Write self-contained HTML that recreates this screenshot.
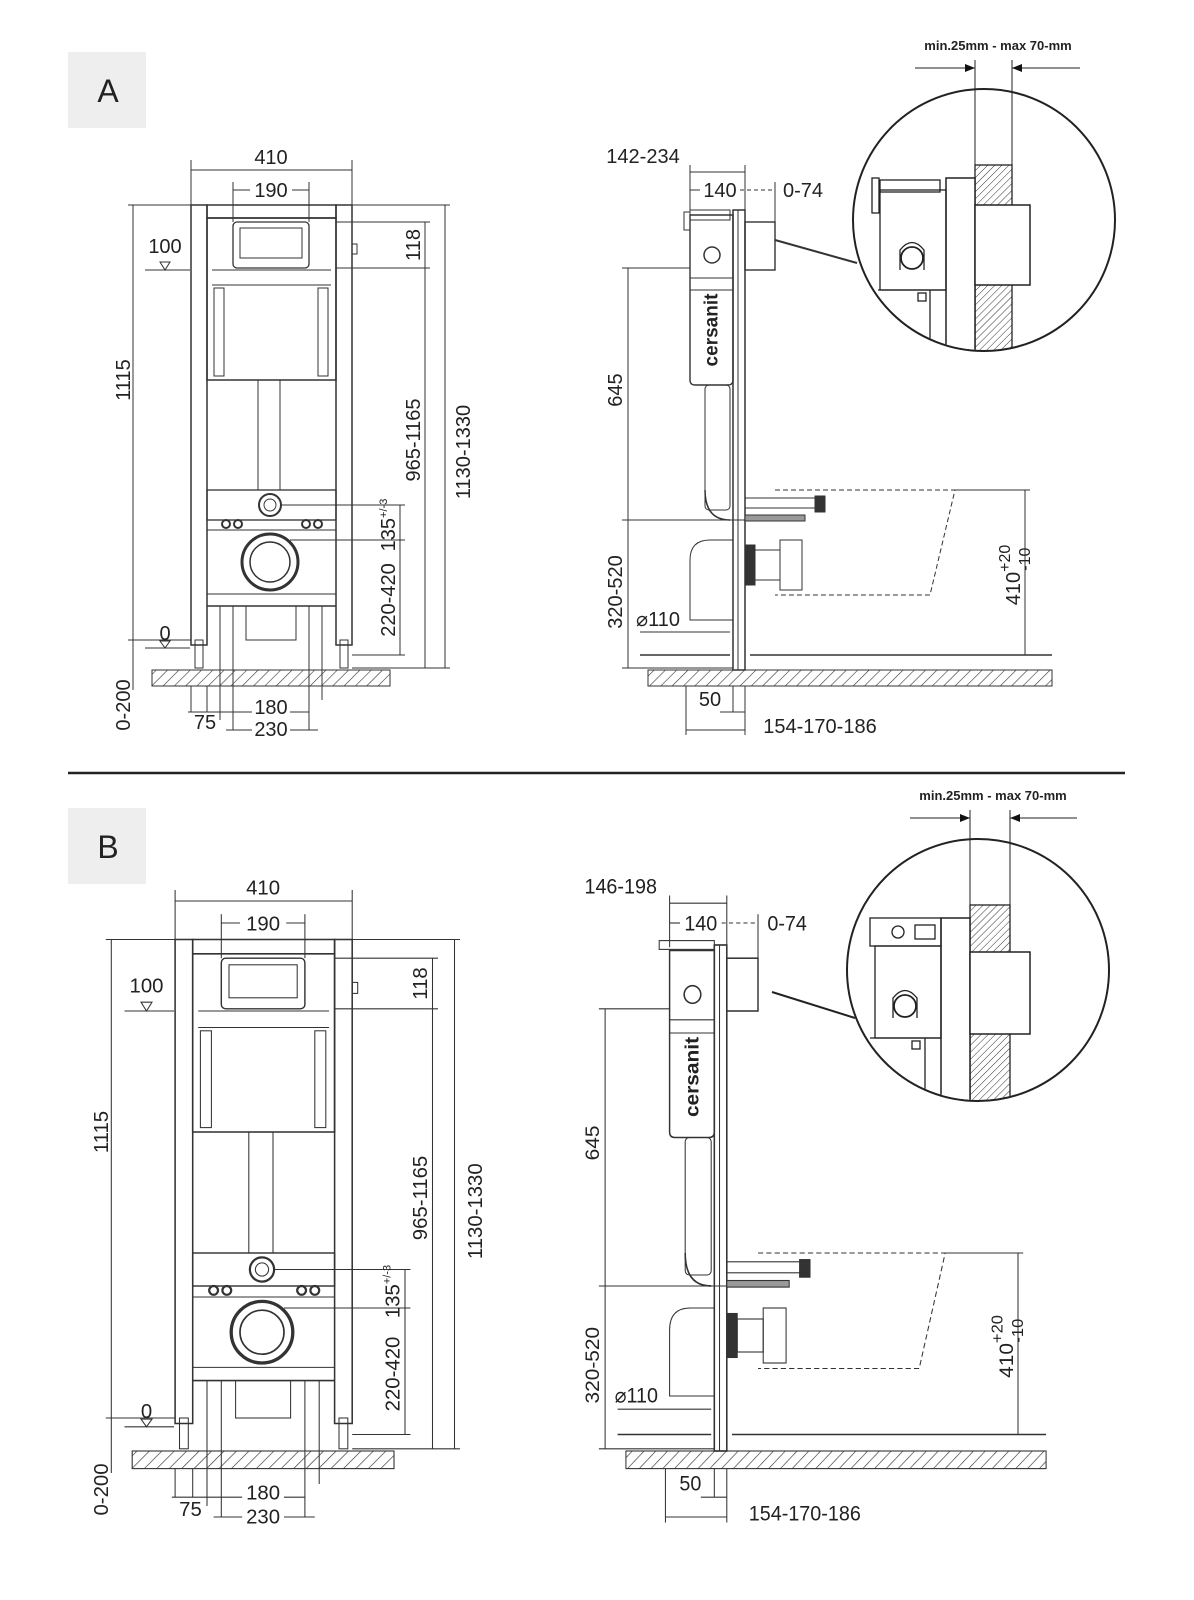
<!DOCTYPE html>
<html><head><meta charset="utf-8"><style>
html,body{margin:0;padding:0;background:#fff}
svg{display:block}
text{font-family:"Liberation Sans",sans-serif;fill:#222}
</style></head><body>
<svg width="1194" height="1600" viewBox="0 0 1194 1600" xmlns="http://www.w3.org/2000/svg">
<defs>
<pattern id="h" width="8" height="8" patternUnits="userSpaceOnUse" patternTransform="rotate(45)"><line x1="0" y1="0" x2="0" y2="8" stroke="#333" stroke-width="1.2"/></pattern>
<pattern id="h2" width="5" height="5" patternUnits="userSpaceOnUse" patternTransform="rotate(45)"><line x1="0" y1="0" x2="0" y2="5" stroke="#333" stroke-width="1"/></pattern>
<marker id="ar" markerWidth="10" markerHeight="8" refX="10" refY="4" orient="auto"><path d="M0,0L10,4L0,8z" fill="#111"/></marker>
</defs>

<line x1="68" y1="773" x2="1125" y2="773" stroke="#222" stroke-width="2.5"/>

<!-- ===== SECTION A ===== -->
<g id="A">
<rect x="68" y="52" width="78" height="76" fill="#eeeeee"/>
<text x="108" y="102" font-size="32" text-anchor="middle">A</text>

<g stroke="#333" fill="none" stroke-width="1">
<line x1="191" y1="170" x2="352" y2="170"/><line x1="191" y1="160" x2="191" y2="205"/><line x1="352" y1="160" x2="352" y2="205"/>
<line x1="233" y1="190" x2="250" y2="190"/><line x1="292" y1="190" x2="309" y2="190"/><line x1="233" y1="182" x2="233" y2="222"/><line x1="309" y1="182" x2="309" y2="222"/>
<line x1="133" y1="205" x2="133" y2="640"/><line x1="128" y1="205" x2="191" y2="205"/>
<line x1="133" y1="640" x2="133" y2="690"/><line x1="128" y1="640" x2="191" y2="640"/>
<line x1="145" y1="270" x2="190" y2="270"/><path d="M160,262L170,262L165,270z"/>
<line x1="145" y1="648" x2="190" y2="648"/><path d="M160,641L170,641L165,648z"/>
<rect x="191" y="205" width="16" height="440" stroke-width="1.5"/>
<rect x="336" y="205" width="16" height="440" stroke-width="1.5"/>
<rect x="195" y="640" width="8" height="28"/><rect x="340" y="640" width="8" height="28"/>
<rect x="207" y="205" width="129" height="13" stroke-width="1.5"/>
<rect x="207" y="218" width="129" height="162" stroke-width="1.5"/>
<rect x="233" y="222" width="76" height="46" rx="4" stroke-width="1.3"/>
<rect x="240" y="228" width="62" height="30"/>
<line x1="212" y1="270" x2="331" y2="270"/><line x1="212" y1="285" x2="331" y2="285"/>
<rect x="214" y="288" width="10" height="88"/><rect x="318" y="288" width="10" height="88"/>
<rect x="352" y="244" width="5" height="10"/>
<rect x="258" y="380" width="22" height="110"/>
<rect x="207" y="490" width="129" height="30" stroke-width="1.3"/>
<circle cx="270" cy="505" r="11" stroke-width="2"/><circle cx="270" cy="505" r="6"/>
<circle cx="226" cy="524" r="4" stroke-width="2"/><circle cx="238" cy="524" r="4" stroke-width="2"/>
<circle cx="306" cy="524" r="4" stroke-width="2"/><circle cx="318" cy="524" r="4" stroke-width="2"/>
<line x1="207" y1="530" x2="336" y2="530"/>
<circle cx="270" cy="562" r="28" stroke-width="3"/><circle cx="270" cy="562" r="20" stroke-width="1.5"/>
<line x1="207" y1="594" x2="336" y2="594"/><line x1="207" y1="606" x2="336" y2="606" stroke-width="1.5"/>
<rect x="246" y="606" width="50" height="34"/>
<line x1="220" y1="606" x2="220" y2="720"/><line x1="233" y1="606" x2="233" y2="730"/><line x1="309" y1="606" x2="309" y2="730"/><line x1="322" y1="606" x2="322" y2="700"/>
<line x1="336" y1="222" x2="430" y2="222"/><line x1="336" y1="268" x2="430" y2="268"/>
<line x1="425" y1="222" x2="425" y2="268"/><line x1="425" y1="268" x2="425" y2="668"/>
<line x1="352" y1="205" x2="450" y2="205"/><line x1="445" y1="205" x2="445" y2="668"/>
<line x1="280" y1="505" x2="405" y2="505"/><line x1="290" y1="540" x2="405" y2="540"/>
<line x1="400" y1="505" x2="400" y2="655"/><line x1="352" y1="655" x2="405" y2="655"/>
<line x1="352" y1="668" x2="450" y2="668"/>
<line x1="188" y1="712" x2="233" y2="712"/><line x1="233" y1="712" x2="252" y2="712"/><line x1="290" y1="712" x2="309" y2="712"/>
<line x1="226" y1="730" x2="252" y2="730"/><line x1="290" y1="730" x2="318" y2="730"/>
<line x1="191" y1="686" x2="191" y2="712"/><line x1="207" y1="686" x2="207" y2="712"/>
</g>
<rect x="152" y="670" width="238" height="16" fill="url(#h)" stroke="#333"/>
<text x="271" y="164" font-size="20" text-anchor="middle">410</text>
<text x="271" y="197" font-size="20" text-anchor="middle">190</text>
<text x="165" y="253" font-size="20" text-anchor="middle">100</text>
<text x="165" y="640" font-size="20" text-anchor="middle">0</text>
<text transform="translate(130,380) rotate(-90)" font-size="20" text-anchor="middle">1115</text>
<text transform="translate(130,705) rotate(-90)" font-size="20" text-anchor="middle">0-200</text>
<text transform="translate(420,245) rotate(-90)" font-size="20" text-anchor="middle">118</text>
<text transform="translate(420,440) rotate(-90)" font-size="20" text-anchor="middle">965-1165</text>
<text transform="translate(470,452) rotate(-90)" font-size="20" text-anchor="middle">1130-1330</text>
<text transform="translate(395,525) rotate(-90)" font-size="20" text-anchor="middle">135<tspan font-size="11" dy="-8">+/-3</tspan></text>
<text transform="translate(395,600) rotate(-90)" font-size="20" text-anchor="middle">220-420</text>
<text x="205" y="729" font-size="20" text-anchor="middle">75</text>
<text x="271" y="714" font-size="20" text-anchor="middle">180</text>
<text x="271" y="736" font-size="20" text-anchor="middle">230</text>

<g stroke="#333" fill="none" stroke-width="1">
<line x1="690" y1="172" x2="745" y2="172"/><line x1="690" y1="165" x2="690" y2="212"/><line x1="745" y1="165" x2="745" y2="210"/>
<line x1="690" y1="190" x2="700" y2="190"/><line x1="740" y1="190" x2="775" y2="190" stroke-dasharray="4 3"/><line x1="775" y1="182" x2="775" y2="222"/>
<rect x="733" y="210" width="12" height="460" stroke-width="1.5"/>
<line x1="738" y1="210" x2="738" y2="670"/>
<path d="M690,215 L733,215 L733,380 Q733,385 728,385 L695,385 Q690,385 690,380 Z" stroke-width="1.4"/>
<rect x="684" y="212" width="6" height="18"/><rect x="690" y="210" width="40" height="10"/>
<line x1="690" y1="278" x2="733" y2="278"/><line x1="690" y1="290" x2="733" y2="290"/>
<circle cx="712" cy="255" r="8" stroke-width="1.5"/>
<rect x="705" y="385" width="25" height="125" rx="4"/>
<path d="M705,490 Q705,520 730,520" stroke-width="1.5"/>
<rect x="745" y="222" width="30" height="48" stroke-width="1.4"/>
<path d="M775,490 L955,490 L930,595 L775,595" stroke-dasharray="5 3"/>
<rect x="745" y="498" width="75" height="10"/><rect x="815" y="496" width="10" height="16" fill="#333"/>
<rect x="745" y="515" width="60" height="6" fill="#999"/>
<rect x="745" y="545" width="10" height="40" fill="#333"/><rect x="755" y="550" width="25" height="30"/><rect x="780" y="540" width="22" height="50"/>
<path d="M690,560 Q690,540 710,540 L733,540 L733,620 L690,620 Z"/>
<line x1="640" y1="655" x2="730" y2="655" stroke-width="1.4"/><line x1="750" y1="655" x2="1052" y2="655" stroke-width="1.4"/>
<line x1="622" y1="268" x2="690" y2="268"/><line x1="628" y1="268" x2="628" y2="668"/><line x1="622" y1="520" x2="745" y2="520"/><line x1="622" y1="668" x2="733" y2="668"/>
<line x1="640" y1="632" x2="730" y2="632"/>
<line x1="955" y1="490" x2="1030" y2="490"/><line x1="1025" y1="490" x2="1025" y2="655"/>
<line x1="686" y1="686" x2="686" y2="735"/><line x1="733" y1="686" x2="733" y2="712"/><line x1="745" y1="686" x2="745" y2="735"/>
<line x1="686" y1="730" x2="745" y2="730"/><line x1="720" y1="712" x2="745" y2="712"/>
<line x1="775" y1="240" x2="857" y2="263" stroke-width="2"/>
</g>
<rect x="648" y="670" width="404" height="16" fill="url(#h)" stroke="#333"/>
<text transform="translate(712,330) rotate(-90)" font-size="19" font-weight="bold" text-anchor="middle" dominant-baseline="central" fill="#333">cersanit</text>
<text x="643" y="163" font-size="20" text-anchor="middle">142-234</text>
<text x="720" y="197" font-size="20" text-anchor="middle">140</text>
<text x="803" y="197" font-size="20" text-anchor="middle">0-74</text>
<text transform="translate(622,390) rotate(-90)" font-size="20" text-anchor="middle">645</text>
<text transform="translate(622,592) rotate(-90)" font-size="20" text-anchor="middle">320-520</text>
<text x="658" y="626" font-size="20" text-anchor="middle">⌀110</text>
<text transform="translate(1020,575) rotate(-90)" font-size="20" text-anchor="middle">410<tspan font-size="16" dy="-10">+20</tspan><tspan font-size="16" dx="-26" dy="20">-10</tspan></text>
<text x="710" y="706" font-size="20" text-anchor="middle">50</text>
<text x="820" y="733" font-size="20" text-anchor="middle">154-170-186</text>

<text x="998" y="50" font-size="13" font-weight="bold" text-anchor="middle">min.25mm - max 70-mm</text>
<g stroke="#222" fill="none">
<line x1="915" y1="68" x2="975" y2="68" marker-end="url(#ar)"/><line x1="1080" y1="68" x2="1012" y2="68" marker-end="url(#ar)"/>
<line x1="975" y1="60" x2="975" y2="165"/><line x1="1012" y1="60" x2="1012" y2="165"/>
<circle cx="984" cy="220" r="131" stroke-width="2"/>
</g>
<clipPath id="c1"><circle cx="984" cy="220" r="130"/></clipPath>
<g clip-path="url(#c1)" stroke="#222" fill="none" stroke-width="1.3">
<rect x="975" y="165" width="37" height="200" fill="url(#h2)"/>
<rect x="946" y="178" width="29" height="190" fill="#fff" stroke-width="1.5"/>
<rect x="975" y="205" width="55" height="80" fill="#fff" stroke-width="1.5"/>
<rect x="880" y="190" width="66" height="100"/>
<rect x="872" y="178" width="7" height="35"/><rect x="880" y="180" width="60" height="12"/>
<path d="M900,270 L900,250 Q912,235 924,250 L924,270"/>
<circle cx="912" cy="258" r="11" stroke-width="1.8"/>
<line x1="878" y1="290" x2="946" y2="290"/><rect x="918" y="293" width="8" height="8"/>
<line x1="930" y1="290" x2="930" y2="360"/>
</g>
</g>

<!-- ===== SECTION B ===== -->
<g>
<rect x="68" y="808" width="78" height="76" fill="#eeeeee"/>
<text x="108" y="858" font-size="32" text-anchor="middle">B</text>

<g transform="translate(-35,714) scale(1.1)">
<g stroke="#333" fill="none" stroke-width="0.95">
<line x1="191" y1="170" x2="352" y2="170"/><line x1="191" y1="160" x2="191" y2="205"/><line x1="352" y1="160" x2="352" y2="205"/>
<line x1="233" y1="190" x2="250" y2="190"/><line x1="292" y1="190" x2="309" y2="190"/><line x1="233" y1="182" x2="233" y2="222"/><line x1="309" y1="182" x2="309" y2="222"/>
<line x1="133" y1="205" x2="133" y2="640"/><line x1="128" y1="205" x2="191" y2="205"/>
<line x1="133" y1="640" x2="133" y2="690"/><line x1="128" y1="640" x2="191" y2="640"/>
<line x1="145" y1="270" x2="190" y2="270"/><path d="M160,262L170,262L165,270z"/>
<line x1="145" y1="648" x2="190" y2="648"/><path d="M160,641L170,641L165,648z"/>
<rect x="191" y="205" width="16" height="440" stroke-width="1.4"/>
<rect x="336" y="205" width="16" height="440" stroke-width="1.4"/>
<rect x="195" y="640" width="8" height="28"/><rect x="340" y="640" width="8" height="28"/>
<rect x="207" y="205" width="129" height="13" stroke-width="1.4"/>
<rect x="207" y="218" width="129" height="162" stroke-width="1.4"/>
<rect x="233" y="222" width="76" height="46" rx="4" stroke-width="1.3"/>
<rect x="240" y="228" width="62" height="30"/>
<line x1="212" y1="270" x2="331" y2="270"/><line x1="212" y1="285" x2="331" y2="285"/>
<rect x="214" y="288" width="10" height="88"/><rect x="318" y="288" width="10" height="88"/>
<rect x="352" y="244" width="5" height="10"/>
<rect x="258" y="380" width="22" height="110"/>
<rect x="207" y="490" width="129" height="30" stroke-width="1.3"/>
<circle cx="270" cy="505" r="11" stroke-width="2"/><circle cx="270" cy="505" r="6"/>
<circle cx="226" cy="524" r="4" stroke-width="2"/><circle cx="238" cy="524" r="4" stroke-width="2"/>
<circle cx="306" cy="524" r="4" stroke-width="2"/><circle cx="318" cy="524" r="4" stroke-width="2"/>
<line x1="207" y1="530" x2="336" y2="530"/>
<circle cx="270" cy="562" r="28" stroke-width="3"/><circle cx="270" cy="562" r="20" stroke-width="1.5"/>
<line x1="207" y1="594" x2="336" y2="594"/><line x1="207" y1="606" x2="336" y2="606" stroke-width="1.5"/>
<rect x="246" y="606" width="50" height="34"/>
<line x1="220" y1="606" x2="220" y2="720"/><line x1="233" y1="606" x2="233" y2="730"/><line x1="309" y1="606" x2="309" y2="730"/><line x1="322" y1="606" x2="322" y2="700"/>
<line x1="336" y1="222" x2="430" y2="222"/><line x1="336" y1="268" x2="430" y2="268"/>
<line x1="425" y1="222" x2="425" y2="268"/><line x1="425" y1="268" x2="425" y2="668"/>
<line x1="352" y1="205" x2="450" y2="205"/><line x1="445" y1="205" x2="445" y2="668"/>
<line x1="280" y1="505" x2="405" y2="505"/><line x1="290" y1="540" x2="405" y2="540"/>
<line x1="400" y1="505" x2="400" y2="655"/><line x1="352" y1="655" x2="405" y2="655"/>
<line x1="352" y1="668" x2="450" y2="668"/>
<line x1="188" y1="712" x2="233" y2="712"/><line x1="233" y1="712" x2="252" y2="712"/><line x1="290" y1="712" x2="309" y2="712"/>
<line x1="226" y1="730" x2="252" y2="730"/><line x1="290" y1="730" x2="318" y2="730"/>
<line x1="191" y1="686" x2="191" y2="712"/><line x1="207" y1="686" x2="207" y2="712"/>
</g>
<rect x="152" y="670" width="238" height="16" fill="url(#h)" stroke="#333"/>
<text x="271" y="164" font-size="18.5" text-anchor="middle">410</text>
<text x="271" y="197" font-size="18.5" text-anchor="middle">190</text>
<text x="165" y="253" font-size="18.5" text-anchor="middle">100</text>
<text x="165" y="640" font-size="18.5" text-anchor="middle">0</text>
<text transform="translate(130,380) rotate(-90)" font-size="18.5" text-anchor="middle">1115</text>
<text transform="translate(130,705) rotate(-90)" font-size="18.5" text-anchor="middle">0-200</text>
<text transform="translate(420,245) rotate(-90)" font-size="18.5" text-anchor="middle">118</text>
<text transform="translate(420,440) rotate(-90)" font-size="18.5" text-anchor="middle">965-1165</text>
<text transform="translate(470,452) rotate(-90)" font-size="18.5" text-anchor="middle">1130-1330</text>
<text transform="translate(395,525) rotate(-90)" font-size="18.5" text-anchor="middle">135<tspan font-size="10" dy="-8">+/-3</tspan></text>
<text transform="translate(395,600) rotate(-90)" font-size="18.5" text-anchor="middle">220-420</text>
<text x="205" y="729" font-size="18.5" text-anchor="middle">75</text>
<text x="271" y="714" font-size="18.5" text-anchor="middle">180</text>
<text x="271" y="736" font-size="18.5" text-anchor="middle">230</text>
</g>

<g transform="translate(-48,714) scale(1.04,1.1)">
<g stroke="#333" fill="none" stroke-width="1">
<line x1="690" y1="172" x2="745" y2="172"/><line x1="690" y1="165" x2="690" y2="212"/><line x1="745" y1="165" x2="745" y2="210"/>
<line x1="690" y1="190" x2="700" y2="190"/><line x1="740" y1="190" x2="775" y2="190" stroke-dasharray="4 3"/><line x1="775" y1="182" x2="775" y2="222"/>
<rect x="733" y="210" width="12" height="460" stroke-width="1.5"/>
<line x1="738" y1="210" x2="738" y2="670"/>
<rect x="680" y="206" width="53" height="8"/>
<path d="M690,215 L733,215 L733,380 Q733,385 728,385 L695,385 Q690,385 690,380 Z" stroke-width="1.4"/>
<line x1="690" y1="278" x2="733" y2="278"/><line x1="690" y1="290" x2="733" y2="290"/>
<circle cx="712" cy="255" r="8" stroke-width="1.5"/>
<rect x="705" y="385" width="25" height="125" rx="4"/>
<path d="M705,490 Q705,520 730,520" stroke-width="1.5"/>
<rect x="745" y="222" width="30" height="48" stroke-width="1.4"/>
<path d="M775,490 L955,490 L930,595 L775,595" stroke-dasharray="5 3"/>
<rect x="745" y="498" width="75" height="10"/><rect x="815" y="496" width="10" height="16" fill="#333"/>
<rect x="745" y="515" width="60" height="6" fill="#999"/>
<rect x="745" y="545" width="10" height="40" fill="#333"/><rect x="755" y="550" width="25" height="30"/><rect x="780" y="540" width="22" height="50"/>
<path d="M690,560 Q690,540 710,540 L733,540 L733,620 L690,620 Z"/>
<line x1="640" y1="655" x2="730" y2="655" stroke-width="1.4"/><line x1="750" y1="655" x2="1052" y2="655" stroke-width="1.4"/>
<line x1="622" y1="268" x2="690" y2="268"/><line x1="628" y1="268" x2="628" y2="668"/><line x1="622" y1="520" x2="745" y2="520"/><line x1="622" y1="668" x2="733" y2="668"/>
<line x1="640" y1="632" x2="730" y2="632"/>
<line x1="955" y1="490" x2="1030" y2="490"/><line x1="1025" y1="490" x2="1025" y2="655"/>
<line x1="686" y1="686" x2="686" y2="735"/><line x1="733" y1="686" x2="733" y2="712"/><line x1="745" y1="686" x2="745" y2="735"/>
<line x1="686" y1="730" x2="745" y2="730"/><line x1="720" y1="712" x2="745" y2="712"/>
</g>
<rect x="648" y="670" width="404" height="16" fill="url(#h)" stroke="#333"/>
<text transform="translate(712,330) rotate(-90)" font-size="19" font-weight="bold" text-anchor="middle" dominant-baseline="central" fill="#333">cersanit</text>
<text x="643" y="163" font-size="19" text-anchor="middle">146-198</text>
<text x="720" y="197" font-size="19" text-anchor="middle">140</text>
<text x="803" y="197" font-size="19" text-anchor="middle">0-74</text>
<text transform="translate(622,390) rotate(-90)" font-size="19" text-anchor="middle">645</text>
<text transform="translate(622,592) rotate(-90)" font-size="19" text-anchor="middle">320-520</text>
<text x="658" y="626" font-size="19" text-anchor="middle">⌀110</text>
<text transform="translate(1020,575) rotate(-90)" font-size="19" text-anchor="middle">410<tspan font-size="15" dy="-10">+20</tspan><tspan font-size="15" dx="-25" dy="20">-10</tspan></text>
<text x="710" y="706" font-size="19" text-anchor="middle">50</text>
<text x="820" y="733" font-size="19" text-anchor="middle">154-170-186</text>
</g>

<text x="993" y="800" font-size="13" font-weight="bold" text-anchor="middle">min.25mm - max 70-mm</text>
<g stroke="#222" fill="none">
<line x1="910" y1="818" x2="970" y2="818" marker-end="url(#ar)"/><line x1="1077" y1="818" x2="1010" y2="818" marker-end="url(#ar)"/>
<line x1="970" y1="810" x2="970" y2="915"/><line x1="1010" y1="810" x2="1010" y2="915"/>
<circle cx="978" cy="970" r="131" stroke-width="2"/>
<line x1="772" y1="992" x2="855" y2="1018" stroke-width="2"/>
</g>
<clipPath id="c2"><circle cx="978" cy="970" r="130"/></clipPath>
<g clip-path="url(#c2)" stroke="#222" fill="none" stroke-width="1.3">
<rect x="970" y="905" width="40" height="210" fill="url(#h2)"/>
<rect x="941" y="918" width="29" height="200" fill="#fff" stroke-width="1.5"/>
<rect x="970" y="952" width="60" height="82" fill="#fff" stroke-width="1.5"/>
<rect x="870" y="918" width="71" height="28"/><circle cx="898" cy="932" r="6"/><rect x="915" y="925" width="20" height="14"/>
<rect x="875" y="946" width="66" height="92"/>
<path d="M893,1018 L893,998 Q905,983 917,998 L917,1018"/>
<circle cx="905" cy="1006" r="11" stroke-width="1.8"/>
<line x1="870" y1="1038" x2="941" y2="1038"/><rect x="912" y="1041" width="8" height="8"/>
<line x1="925" y1="1038" x2="925" y2="1110"/>
</g>
</g>
</svg>
</body></html>
